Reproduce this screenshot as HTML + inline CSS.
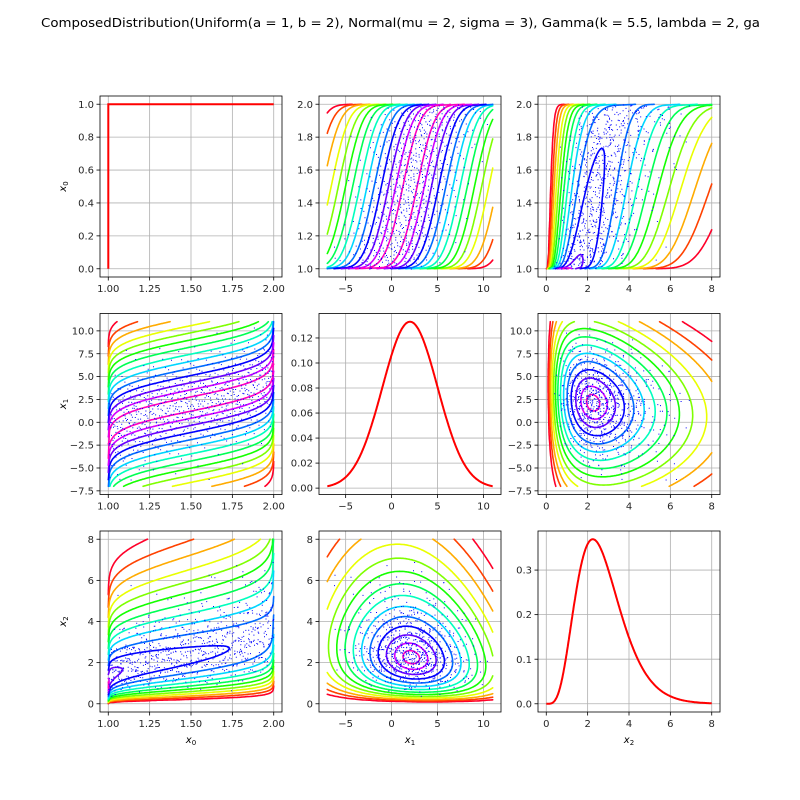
<!DOCTYPE html>
<html><head><meta charset="utf-8"><style>
html,body{margin:0;padding:0;background:#fff;}
svg{display:block;font-family:"DejaVu Sans","Liberation Sans",sans-serif;}
</style></head><body>
<svg id="fig" width="800" height="800" viewBox="0 0 800 800" xmlns="http://www.w3.org/2000/svg">
<rect width="800" height="800" fill="#fff"/>
<text x="41" y="27" font-size="12" textLength="719" lengthAdjust="spacingAndGlyphs" fill="#000">ComposedDistribution(Uniform(a = 1, b = 2), Normal(mu = 2, sigma = 3), Gamma(k = 5.5, lambda = 2, ga</text>
</svg>
<script>
// ---- data ----
const uniformParams = [1, 2];          // a, b
const normalParams = [2, 3];           // mu, sigma
const gammaParams = [5.5, 2, 0];       // k, lambda, gamma
const corrRow0 = [1, 0.5, 0.5];
const corrRow1 = [0.5, 1, -0.15];
const corrRow2 = [0.5, -0.15, 1];
const domainMin = [1, -7, 0];
const domainMax = [2, 11, 8];
const levelZ = [4.4, 4.0, 3.65, 3.3, 3.0, 2.7, 2.4, 2.1, 1.8, 1.5, 1.2, 0.9, 0.6, 0.3];
const ticks0 = [1.0, 1.25, 1.5, 1.75, 2.0];
const tickLabels0 = ["1.00", "1.25", "1.50", "1.75", "2.00"];
const ticks1 = [-7.5, -5, -2.5, 0, 2.5, 5, 7.5, 10];
const tickLabels1 = ["\u22127.5", "\u22125.0", "\u22122.5", "0.0", "2.5", "5.0", "7.5", "10.0"];
const ticks1x = [-5, 0, 5, 10];
const tickLabels1x = ["\u22125", "0", "5", "10"];
const ticks2 = [0, 2, 4, 6, 8];
const tickLabels2 = ["0", "2", "4", "6", "8"];
const ticksU = [0, 0.2, 0.4, 0.6, 0.8, 1.0];
const tickLabelsU = ["0.0", "0.2", "0.4", "0.6", "0.8", "1.0"];
const ticksX0 = [1.0, 1.2, 1.4, 1.6, 1.8, 2.0];
const tickLabelsX0 = ["1.0", "1.2", "1.4", "1.6", "1.8", "2.0"];
const ticksN = [0, 0.02, 0.04, 0.06, 0.08, 0.10, 0.12];
const tickLabelsN = ["0.00", "0.02", "0.04", "0.06", "0.08", "0.10", "0.12"];
const ticksG = [0, 0.1, 0.2, 0.3];
const tickLabelsG = ["0.0", "0.1", "0.2", "0.3"];
const sampleSize = 800;

const corr = [corrRow0, corrRow1, corrRow2];
const NS = "http://www.w3.org/2000/svg";
const svg = document.getElementById('fig');
function mk(tag, attrs, parent) {
  const e = document.createElementNS(NS, tag);
  for (const k in attrs) e.setAttribute(k, attrs[k]);
  (parent || svg).appendChild(e);
  return e;
}
// ---- math ----
function erf(x){const s=x<0?-1:1;x=Math.abs(x);const t=1/(1+0.3275911*x);
 const y=1-(((((1.061405429*t-1.453152027)*t)+1.421413741)*t-0.284496736)*t+0.254829592)*t*Math.exp(-x*x);return s*y;}
function Phi(x){return 0.5*(1+erf(x/Math.SQRT2));}
function phi(x){return Math.exp(-x*x/2)/Math.sqrt(2*Math.PI);}
function PhiInv(p){
 const a=[-39.69683028665376,220.9460984245205,-275.9285104469687,138.3577518672690,-30.66479806614716,2.506628277459239];
 const b=[-54.47609879822406,161.5858368580409,-155.6989798598866,66.80131188771972,-13.28068155288572];
 const c=[-0.007784894002430293,-0.3223964580411365,-2.400758277161838,-2.549732539343734,4.374664141464968,2.938163982698783];
 const d=[0.007784695709041462,0.3224671290700398,2.445134137142996,3.754408661907416];
 p=Math.min(Math.max(p,1e-12),1-1e-12);const pl=0.02425;let q,r;
 if(p<pl){q=Math.sqrt(-2*Math.log(p));return (((((c[0]*q+c[1])*q+c[2])*q+c[3])*q+c[4])*q+c[5])/((((d[0]*q+d[1])*q+d[2])*q+d[3])*q+1);}
 if(p<=1-pl){q=p-0.5;r=q*q;return (((((a[0]*r+a[1])*r+a[2])*r+a[3])*r+a[4])*r+a[5])*q/(((((b[0]*r+b[1])*r+b[2])*r+b[3])*r+b[4])*r+1);}
 q=Math.sqrt(-2*Math.log(1-p));return -(((((c[0]*q+c[1])*q+c[2])*q+c[3])*q+c[4])*q+c[5])/((((d[0]*q+d[1])*q+d[2])*q+d[3])*q+1);}
function lgamma(z){const g=7,cf=[0.99999999999980993,676.5203681218851,-1259.1392167224028,771.32342877765313,-176.61502916214059,12.507343278686905,-0.13857109526572012,9.9843695780195716e-6,1.5056327351493116e-7];
 z-=1;let x=cf[0];for(let i=1;i<g+2;i++)x+=cf[i]/(z+i);const t=z+g+0.5;return 0.5*Math.log(2*Math.PI)+(z+0.5)*Math.log(t)-t+Math.log(x);}
const gk=gammaParams[0], gl=gammaParams[1], g0=gammaParams[2], lgk=lgamma(gk);
function gammaPdf(x){const y=x-g0;if(y<=0)return 0;return Math.exp(gk*Math.log(gl)+(gk-1)*Math.log(y)-gl*y-lgk);}
const GSTEP=0.004, GN=3500, gcdf=[0];
for(let i=1;i<=GN;i++){gcdf.push(gcdf[i-1]+0.5*GSTEP*(gammaPdf(g0+(i-1)*GSTEP)+gammaPdf(g0+i*GSTEP)));}
function gammaCdf(x){const t=(x-g0)/GSTEP;if(t<=0)return 0;if(t>=GN)return 1;const i=Math.floor(t),f=t-i;return gcdf[i]*(1-f)+gcdf[i+1]*f;}
function gammaQuantile(p){let lo=0,hi=GN;while(hi-lo>1){const m=(lo+hi)>>1;if(gcdf[m]<p)lo=m;else hi=m;}
 const f=(p-gcdf[lo])/Math.max(gcdf[hi]-gcdf[lo],1e-15);return g0+(lo+f)*GSTEP;}
function marginalPdf(k,x){
 if(k===0)return (x>=uniformParams[0]&&x<=uniformParams[1])?1/(uniformParams[1]-uniformParams[0]):0;
 if(k===1)return phi((x-normalParams[0])/normalParams[1])/normalParams[1];
 return gammaPdf(x);}
function score(k,x){
 if(k===0)return PhiInv((x-uniformParams[0])/(uniformParams[1]-uniformParams[0]));
 if(k===1)return (x-normalParams[0])/normalParams[1];
 return PhiInv(gammaCdf(x));}
function jointPdf(i,xi,j,xj){
 const r=corr[i][j],a=score(i,xi),b=score(j,xj),q=1-r*r;
 const c=Math.exp(-(r*r*a*a-2*r*a*b+r*r*b*b)/(2*q))/Math.sqrt(q);
 return c*marginalPdf(i,xi)*marginalPdf(j,xj);}
// gist_rainbow
const cmPos=[0,0.03,0.215,0.4,0.586,0.77,0.954,1];
const cmCol=[[1,0,0.16],[1,0,0],[1,1,0],[0,1,0],[0,1,1],[0,0,1],[1,0,1],[1,0,0.75]];
function cmap(t){for(let i=0;i<cmPos.length-1;i++){if(t<=cmPos[i+1]){const f=(t-cmPos[i])/(cmPos[i+1]-cmPos[i]);
 const c=cmCol[i].map((v,k)=>Math.round(255*(v+(cmCol[i+1][k]-v)*f)));return `rgb(${c[0]},${c[1]},${c[2]})`;}}return 'rgb(255,0,191)';}
// ---- layout ----
const colLeft=[100,319,538], rowTop=[96,313.5,531], PW=182, PH=181;
function lims(k){const lo=domainMin[k],hi=domainMax[k],m=0.05*(hi-lo);return [lo-m,hi+m];}
function makeAxes(r,c,xl,yl,name){
 const L=colLeft[c],T=rowTop[r];
 const sx=x=>L+(x-xl[0])/(xl[1]-xl[0])*PW;
 const sy=y=>T+PH-(y-yl[0])/(yl[1]-yl[0])*PH;
 const g=mk('g',{});
 
 
 const cid='clip'+r+c;
 const cp=mk('clipPath',{id:cid},g);mk('rect',{x:L,y:T,width:PW,height:PH},cp);
 const grid=mk('g',{},g);
 
 
 const plot=mk('g',{'clip-path':`url(#${cid})`},g);
 
 
 return {L,T,sx,sy,g,grid,plot};
}
function finishAxes(ax,xt,xlab,yt,ylab){
 const {L,T,sx,sy,g,grid}=ax;
 xt.forEach((v,i)=>{const x=sx(v);
  mk('line',{x1:x,x2:x,y1:T,y2:T+PH,stroke:'#b0b0b0','stroke-width':0.8},grid);
  mk('line',{x1:x,x2:x,y1:T+PH,y2:T+PH+3.5,stroke:'#000','stroke-width':0.8},g);
  const t=mk('text',{x:x,y:T+PH+15,'font-size':10,'text-anchor':'middle',fill:'#262626'},g);t.textContent=xlab[i];
  
  });
 yt.forEach((v,i)=>{const y=sy(v);
  mk('line',{x1:L,x2:L+PW,y1:y,y2:y,stroke:'#b0b0b0','stroke-width':0.8},grid);
  mk('line',{x1:L-3.5,x2:L,y1:y,y2:y,stroke:'#000','stroke-width':0.8},g);
  const t=mk('text',{x:L-6,y:y+3.6,'font-size':10,'text-anchor':'end',fill:'#262626'},g);t.textContent=ylab[i];
  
  });
 const fr=mk('rect',{x:L,y:T,width:PW,height:PH,fill:'none',stroke:'#000','stroke-width':0.8},g);
 
 
}
function tickSet(k,isX){
 if(k===0)return [ticks0,tickLabels0];
 if(k===1)return isX?[ticks1x,tickLabels1x]:[ticks1,tickLabels1];
 return [ticks2,tickLabels2];}
// ---- sample (Halton design through the copula) ----
function halton(i,b){let f=1,r=0;while(i>0){f/=b;r+=f*(i%b);i=Math.floor(i/b);}return r;}
const L21=corr[1][0],L22=Math.sqrt(1-L21*L21),L31=corr[2][0],L32=(corr[2][1]-L31*L21)/L22,L33=Math.sqrt(Math.max(1-L31*L31-L32*L32,1e-6));
const sample=[];
for(let i=1;i<=sampleSize;i++){
 const z0=PhiInv(halton(i,2)),z1=PhiInv(halton(i,3)),z2=PhiInv(halton(i,5));
 const y0=z0,y1=L21*z0+L22*z1,y2=L31*z0+L32*z1+L33*z2;
 sample.push([uniformParams[0]+(uniformParams[1]-uniformParams[0])*Phi(y0),normalParams[0]+normalParams[1]*y1,gammaQuantile(Phi(y2))]);}
// ---- contour ----
function contourPanel(ax,i,j){
 const N=140,xs=[],ys=[];
 for(let a=0;a<=N;a++){const e=(i===0)?0.0003:0;xs.push(domainMin[i]+e+(domainMax[i]-domainMin[i]-2*e)*a/N);}
 for(let b=0;b<=N;b++){const e=(j===0)?0.0003:0;ys.push(domainMin[j]+e+(domainMax[j]-domainMin[j]-2*e)*b/N);}
 const F=[];let mx=0;
 for(let b=0;b<=N;b++){const row=[];for(let a=0;a<=N;a++){const v=jointPdf(i,xs[a],j,ys[b]);row.push(v);if(v>mx)mx=v;}F.push(row);}
 levelZ.forEach((z,li)=>{
  const lev=mx*Math.exp(-z*z/2);let d='';
  for(let b=0;b<N;b++)for(let a=0;a<N;a++){
   const cs=[[xs[a],ys[b],F[b][a]],[xs[a+1],ys[b],F[b][a+1]],[xs[a+1],ys[b+1],F[b+1][a+1]],[xs[a],ys[b+1],F[b+1][a]]];
   const pts=[];
   for(let e=0;e<4;e++){const p=cs[e],q=cs[(e+1)%4];
    if((p[2]-lev)*(q[2]-lev)<0){const f=(lev-p[2])/(q[2]-p[2]);pts.push([p[0]+(q[0]-p[0])*f,p[1]+(q[1]-p[1])*f]);}}
   for(let k=0;k+1<pts.length;k+=2)d+=`M${ax.sx(pts[k][0]).toFixed(1)} ${ax.sy(pts[k][1]).toFixed(1)}L${ax.sx(pts[k+1][0]).toFixed(1)} ${ax.sy(pts[k+1][1]).toFixed(1)}`;
  }
  const p=mk('path',{d:d,fill:'none',stroke:cmap(li/(levelZ.length-1)),'stroke-width':1.6,'stroke-linecap':'round'},ax.plot);
  
  
 });
 let dd='';
 sample.forEach(s=>{dd+=`M${ax.sx(s[i]).toFixed(1)} ${ax.sy(s[j]).toFixed(1)}h1v1h-1z`;});
 const sp=mk('path',{d:dd,fill:'#0000ff'},ax.plot);
 
 
}
// ---- build panels ----
for(let r=0;r<3;r++)for(let c=0;c<3;c++){
 if(r===c){
  const k=r,xl=lims(k);
  const xsP=[],ysP=[];
  for(let a=0;a<=300;a++){const x=domainMin[k]+(domainMax[k]-domainMin[k])*a/300;xsP.push(x);ysP.push(marginalPdf(k,x));}
  if(k===0){xsP.unshift(domainMin[0]);ysP.unshift(0);}
  const ymin=Math.min(...ysP),ymax=Math.max(...ysP),m=0.05*(ymax-ymin);
  const ax=makeAxes(r,c,xl,[ymin-m,ymax+m],'pdf-panel-x'+k);
  let d='';xsP.forEach((x,idx)=>{d+=(idx?'L':'M')+ax.sx(x).toFixed(1)+' '+ax.sy(ysP[idx]).toFixed(1);});
  const p=mk('path',{d:d,fill:'none',stroke:'#ff0000','stroke-width':2},ax.plot);
  
  
  const xt=tickSet(k,true);
  const yt=k===0?[ticksU,tickLabelsU]:k===1?[ticksN,tickLabelsN]:[ticksG,tickLabelsG];
  finishAxes(ax,xt[0],xt[1],yt[0],yt[1]);
 } else {
  const ax=makeAxes(r,c,lims(c),lims(r),'contour-panel-x'+c+'-x'+r);
  contourPanel(ax,c,r);
  const xt=tickSet(c,true);
  const yt=(r===0)?[ticksX0,tickLabelsX0]:tickSet(r,false);
  finishAxes(ax,xt[0],xt[1],yt[0],yt[1]);
 }
}
// axis labels
for(let k=0;k<3;k++){
 const cy=rowTop[k]+PH/2;
 const t=mk('text',{x:0,y:0,'font-size':10,'text-anchor':'middle',transform:`translate(66 ${cy}) rotate(-90)`,fill:'#000'});
 t.innerHTML=`<tspan font-style="italic">x</tspan><tspan font-size="7" dy="2">${k}</tspan>`;
 
 
 const cx=colLeft[k]+PW/2;
 const t2=mk('text',{x:cx,y:743,'font-size':10,'text-anchor':'middle',fill:'#000'});
 t2.innerHTML=`<tspan font-style="italic">x</tspan><tspan font-size="7" dy="2">${k}</tspan>`;
 
 
}
</script>
</body></html>
